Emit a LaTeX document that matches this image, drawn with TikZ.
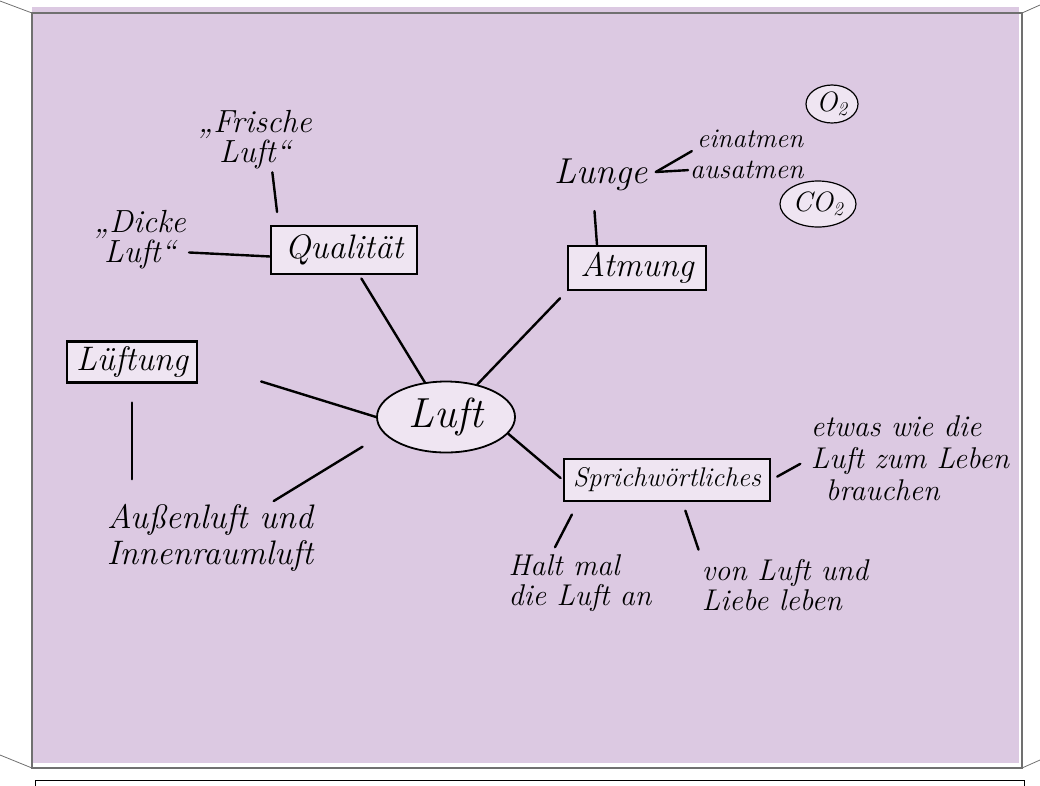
\documentclass[tikz,border=0pt]{standalone}
\usepackage{fontspec}
\usetikzlibrary{shapes, calc}
\definecolor{lila}{HTML}{DCC9E2}
\definecolor{lilahell}{HTML}{EFE5F2}
\definecolor{rahmen}{HTML}{707070}

\begin{document}
\begin{tikzpicture}[x=1pt, y=-1pt]
		\tikzstyle{box}=[
		draw,
		rectangle,
		fill=lilahell,
		line width=2.2pt,
		text centered,
		inner sep=0pt,
		font=\fontsize{34}{36}\selectfont\itshape]
		\tikzstyle{kern}=[
		draw,
		ellipse,
		fill=lilahell,
		line width=1.8pt,
		minimum width=138pt,
		minimum height=71pt,
		inner sep=0pt,
		font=\fontsize{42}{44}\selectfont\itshape]
		\tikzstyle{note}=[
		align=center,
		inner sep=0pt,
		font=\fontsize{30}{30}\selectfont\itshape]
		\tikzstyle{formel}=[
		draw,
		ellipse,
		fill=lilahell,
		line width=1.2pt,
		inner sep=0pt,
		font=\fontsize{28}{30}\selectfont\itshape]
		\tikzstyle{ast}=[line width=2.4pt, line cap=round]
		%
		\useasboundingbox (0,0) rectangle (1040,785);
		\fill[lila] (32,7) rectangle (1019,763);
		\draw[rahmen, line width=1.5pt] (32,13) rectangle (1022,768);
		\draw[rahmen, line width=0.8pt] (0,1) -- (32,13) (1040,5) -- (1022,13)
			(0,755) -- (32,768) (1040,760) -- (1022,768);
		\draw[black, line width=1pt] (35,780) rectangle (1024,800);
		%
		\node[kern] (L) at (446,417) {Luft};
		\node[box, minimum width=146pt, minimum height=48pt] (Q) at (344,250) {Qualität};
		\node[box, minimum width=138pt, minimum height=44pt] (A) at (637,268) {Atmung};
		\node[box, minimum width=130pt, minimum height=41pt] (LF) at (132,362) {Lüftung};
		\node[box, minimum width=206pt, minimum height=42pt, font=\fontsize{27}{29}\selectfont\itshape] (S) at (667,480) {Sprichwörtliches};
		%
		\node[note, font=\fontsize{32}{26}\selectfont\itshape] (Q_F) at (255,140) {„Frische\\Luft“};
		\node[note, font=\fontsize{32}{26}\selectfont\itshape] (Q_D) at (140,240) {„Dicke\\Luft“};
		\node[note, font=\fontsize{36}{36}\selectfont\itshape] (A_L) at (601,175) {Lunge};
		\node[note, anchor=west, font=\fontsize{27}{27}\selectfont\itshape] (A_E) at (697,139) {einatmen};
		\node[note, anchor=west, font=\fontsize{28}{28}\selectfont\itshape] (A_A) at (690,170) {ausatmen};
		\node[formel, minimum width=52pt, minimum height=38pt] (A_O) at (832,104) {O\textsubscript{2}};
		\node[formel, minimum width=76pt, minimum height=46pt] (A_C) at (818,204) {CO\textsubscript{2}};
		\node[note, font=\fontsize{34}{36}\selectfont\itshape] (LF_A) at (210,538) {Außenluft und\\Innenraumluft};
		\node[note, align=left, font=\fontsize{30}{32}\selectfont\itshape] (S_E) at (910,458) {etwas wie die\\Luft zum Leben\\\hspace{15pt}brauchen};
		\node[note, align=left] (S_H) at (580,583) {Halt mal\\die Luft an};
		\node[note, align=left] (S_V) at (785,585) {von Luft und\\Liebe leben};
		\coordinate (A_G) at ($(A_L.east)+(8,-3)$);
		%
		\draw[ast, shorten >=4pt] (L) -- (Q);
		\draw[ast, shorten >=10pt] (L) -- (A.south west);
		\draw[ast, shorten >=3pt] (L.-15) -- (S.west);
		\draw[ast, shorten >=66pt] (L.west) -- (LF.east);
		\draw[ast, shorten <=25pt, shorten >=6pt] (L.195) -- (LF_A.30);
		\draw[ast, shorten <=19pt, shorten >=25pt] (LF.south) -- (LF.south |- LF_A.north);
		%
		\draw[ast, shorten <=13pt, shorten >=3pt] (Q.159) -- (Q_F.-60);
		\draw[ast, shorten >=3pt] (Q.185) -- (Q_D.-15);
		%
		\draw[ast, shorten <=20pt] ([xshift=-8pt]A_L.south) -- ([xshift=-40pt]A.north);
		\draw[ast, shorten >=6pt] (A_G) -- (A_E.south west);
		\draw[ast, shorten >=2pt] (A_G) -- (A_A.west);
		%
		\draw[ast, shorten <=7pt, shorten >=12pt] (S.east) -- (S_E.west);
		\draw[ast, shorten <=14pt, shorten >=8pt] (S.194) -- (S_H.135);
		\draw[ast, shorten <=9pt, shorten >=10pt] (S.-55) -- (S_V.north west);
	\end{tikzpicture}
\end{document}
